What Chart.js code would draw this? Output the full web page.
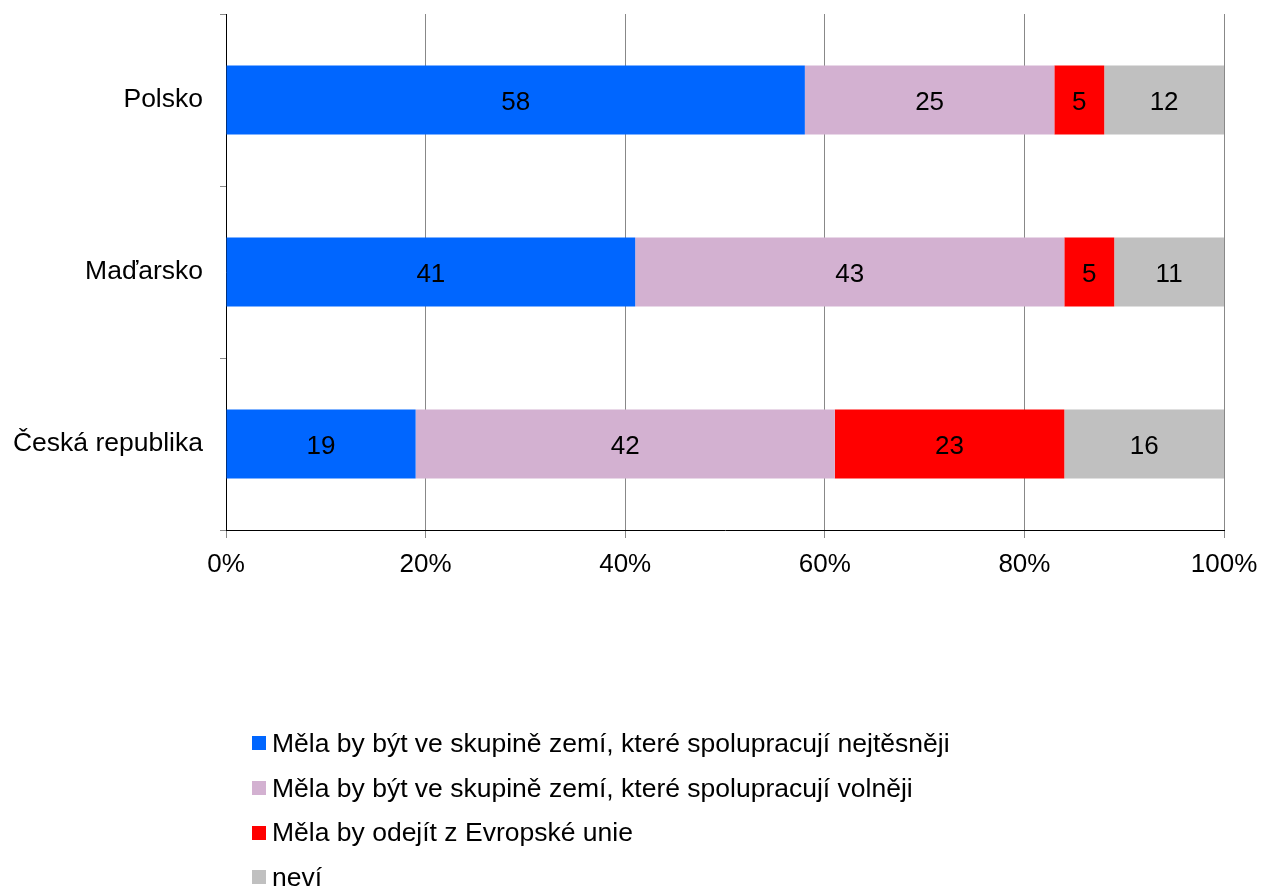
<!DOCTYPE html>
<html>
<head>
<meta charset="utf-8">
<script src="https://cdn.jsdelivr.net/npm/chart.js@4/dist/chart.umd.min.js"></script>
<style>
  html, body { margin: 0; padding: 0; background: #fff; }
  #wrap { position: relative; width: 1261px; height: 887px; }
  #legend { position: absolute; left: 252px; top: 721px; font-family: "Liberation Sans", Arial, sans-serif; font-size: 26.5px; color: #000; }
  #legend .item { height: 44.7px; display: flex; align-items: center; white-space: nowrap; }
  #legend .sw { width: 14px; height: 14px; margin-right: 6px; flex: none; }
</style>
</head>
<body>
<div id="wrap">
  <canvas id="chart" width="1261" height="887"></canvas>
  <div id="legend"></div>
</div>
<script>
// categories and series (percent)
const countries = ["Polsko", "Maďarsko", "Česká republika"];
const seriesNames = [
  "Měla by být ve skupině zemí, které spolupracují nejtěsněji",
  "Měla by být ve skupině zemí, které spolupracují volněji",
  "Měla by odejít z Evropské unie",
  "neví"
];
const closest = [58, 41, 19];
const looser = [25, 43, 42];
const leave = [5, 5, 23];
const dontKnow = [12, 11, 16];
const xTicks = [0, 20, 40, 60, 80, 100];

const colors = ["#0066FF", "#D3B1D1", "#FF0000", "#C0C0C0"];
const FONT = "Liberation Sans, Arial, sans-serif";

// numbers in the middle of each bar segment
const valueLabels = {
  id: "valueLabels",
  afterDatasetsDraw(chart) {
    const ctx = chart.ctx;
    ctx.save();
    ctx.font = "26px " + FONT;
    ctx.fillStyle = "#000";
    ctx.textAlign = "center";
    ctx.textBaseline = "middle";
    chart.data.datasets.forEach((ds, i) => {
      chart.getDatasetMeta(i).data.forEach((bar, j) => {
        const p = bar.getProps(["x", "y", "base"], true);
        ctx.fillText(String(ds.data[j]), (p.x + p.base) / 2, p.y + 3);
      });
    });
    ctx.restore();
  }
};

const allSeries = [closest, looser, leave, dontKnow];

new Chart(document.getElementById("chart"), {
  type: "bar",
  data: {
    labels: countries,
    datasets: allSeries.map((d, i) => ({
      label: seriesNames[i],
      data: d,
      backgroundColor: colors[i],
      borderWidth: 0,
      categoryPercentage: 1,
      barPercentage: 0.4
    }))
  },
  options: {
    indexAxis: "y",
    responsive: false,
    animation: false,
    events: [],
    layout: { padding: { top: 14, right: 37, bottom: 297, left: 0 } },
    plugins: { legend: { display: false }, tooltip: { enabled: false } },
    scales: {
      x: {
        stacked: true,
        min: 0,
        max: 100,
        afterFit: s => { s.height = 60; s.paddingLeft = 0; s.paddingRight = 0; },
        afterBuildTicks: s => { s.ticks = xTicks.map(v => ({ value: v })); },
        grid: { color: "#888", lineWidth: 1, tickLength: 8 },
        border: { color: "#000", width: 1 },
        ticks: {
          padding: 11,
          color: "#000",
          font: { family: FONT, size: 26 },
          callback: v => v + "%"
        }
      },
      y: {
        stacked: true,
        afterFit: s => { s.width = 226; s.paddingTop = 0; s.paddingBottom = 0; },
        grid: { offset: true, drawOnChartArea: false, color: "#888", tickLength: 6 },
        border: { color: "#000", width: 1 },
        ticks: {
          padding: 17,
          color: "#000",
          font: { family: FONT, size: 26.5 }
        }
      }
    }
  },
  plugins: [valueLabels]
});

// legend as a vertical list
const legend = document.getElementById("legend");
seriesNames.forEach((name, i) => {
  const row = document.createElement("div");
  row.className = "item";
  const sw = document.createElement("span");
  sw.className = "sw";
  sw.style.background = colors[i];
  const txt = document.createElement("span");
  txt.textContent = name;
  row.appendChild(sw);
  row.appendChild(txt);
  legend.appendChild(row);
});
</script>
</body>
</html>
